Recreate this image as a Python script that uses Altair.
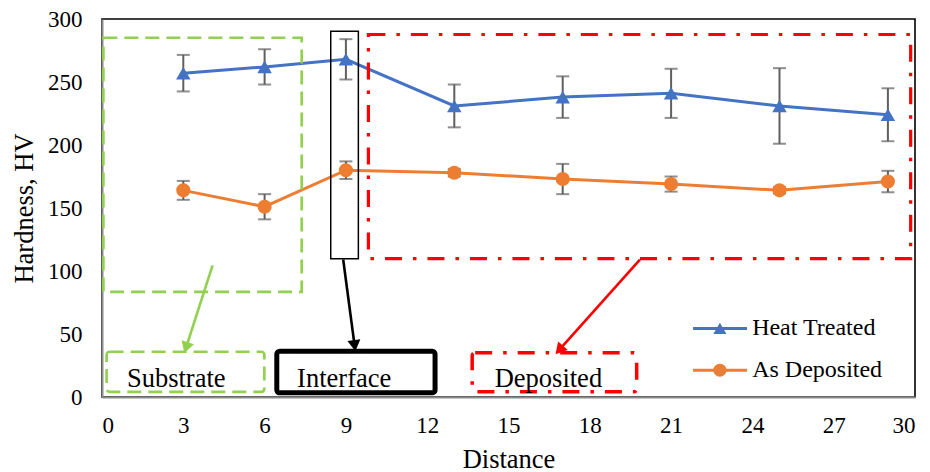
import math
import altair as alt
import pandas as pd

# ---------------- data ----------------
distance = [3, 6, 9, 13, 17, 21, 25, 29]
heat_treated = [257, 262, 268, 231, 238, 241, 231, 224]
heat_err = [14.5, 14, 16, 17, 16.5, 19.5, 30, 21]
as_deposited = [164, 151, 180, 178, 173, 169, 164, 171]
deposited_err = [7.5, 10, 7, 3, 12, 6, 2.5, 8.5]

x_ticks = list(range(0, 31, 3))
y_ticks = list(range(0, 301, 50))

legend_labels = ["Heat Treated", "As Deposited"]
region_labels = ["Substrate", "Interface", "Deposited"]

# ---------------- annotation geometry (data units) ----------------
region_box_x = [0.05, 8.44, 9.83]
region_box_x2 = [7.37, 9.46, 29.84]
region_box_y = [83.5, 109.7, 109.9]
region_box_y2 = [285.1, 290.3, 287.7]
label_box_x = [0.17, 6.45, 13.66]
label_box_x2 = [5.99, 12.29, 19.73]
label_box_y = [4.1, 3.3, 4.1]
label_box_y2 = [35.9, 36.3, 35.1]
label_text_x = [0.92, 7.2, 14.49]
label_text_y = [7.8, 7.8, 7.8]
arrow_x = [4.08, 8.90, 19.85]
arrow_y = [104.4, 109.1, 109.1]
arrow_x2 = [3.06, 9.34, 16.78]
arrow_y2 = [36.3, 37.7, 35.1]
legend_line_x = [21.81, 21.81]
legend_line_x2 = [23.80, 23.80]
legend_mark_x = [22.80, 22.80]
legend_text_x = [23.99, 23.99]
legend_row_y = [54.4, 21.3]

# ---------------- styles ----------------
W, H = 813, 378
XMAX, YMAX = 30, 300
PX_X = W / XMAX
PX_Y = H / YMAX
FONT = "Liberation Serif"
BLUE = "#4472C4"
ORANGE = "#ED7D31"
GREEN = "#92D050"
RED = "#FF0000"
ERR = "#5F5F5F"
region_colors = [GREEN, "#000000", RED]
region_dash = [[14, 7], [1, 0], [17, 11, 3.5, 11]]
region_width = [2.7, 1.5, 3.2]
label_dash = [[14, 7], [1, 0], [17, 11, 3.5, 11]]
label_width = [2.7, 5, 3.5]
HEAD_W = 13

xs = alt.Scale(domain=[0, XMAX], nice=False, zero=False)
ys = alt.Scale(domain=[0, YMAX], nice=False, zero=False)

common_axis = dict(ticks=False, grid=False, labelFont=FONT, titleFont=FONT,
                   labelFontSize=23, titleFontSize=26.5, labelColor="black",
                   titleColor="black", titleFontWeight="normal",
                   domainColor="#8C8C8C", domainWidth=2)
x_axis = alt.Axis(values=x_ticks, title="Distance", labelPadding=17,
                  titleX=W / 2, titleY=70, titleBaseline="alphabetic",
                  titleAlign="center", **common_axis)
y_axis = alt.Axis(values=y_ticks, title="Hardness, HV", labelPadding=20,
                  titleX=-70, titleY=H / 2, titleAngle=270,
                  titleBaseline="alphabetic", titleAlign="center", **common_axis)


def X(f):
    return alt.X(f, type="quantitative", scale=xs, axis=x_axis)


def Y(f):
    return alt.Y(f, type="quantitative", scale=ys, axis=y_axis)


ht = pd.DataFrame({"d": distance, "v": heat_treated,
                   "lo": [v - e for v, e in zip(heat_treated, heat_err)],
                   "hi": [v + e for v, e in zip(heat_treated, heat_err)]})
ad = pd.DataFrame({"d": distance, "v": as_deposited,
                   "lo": [v - e for v, e in zip(as_deposited, deposited_err)],
                   "hi": [v + e for v, e in zip(as_deposited, deposited_err)]})

layers = []

# series lines
layers.append(alt.Chart(ht).mark_line(color=BLUE, strokeWidth=3).encode(
    x=X("d"), y=Y("v")))
layers.append(alt.Chart(ad).mark_line(color=ORANGE, strokeWidth=3).encode(
    x=X("d"), y=Y("v")))

# error bars
for df in (ht, ad):
    layers.append(alt.Chart(df).mark_rule(color=ERR, strokeWidth=2).encode(
        x=X("d"), y=Y("lo"), y2="hi"))
    for f in ("lo", "hi"):
        layers.append(alt.Chart(df).mark_tick(color=ERR, thickness=2, size=13,
                                              orient="horizontal").encode(
            x=X("d"), y=Y(f)))

# markers
layers.append(alt.Chart(ht).mark_point(shape="triangle-up", filled=True, size=210,
                                       color=BLUE, opacity=1).encode(
    x=X("d"), y=Y("v")))
layers.append(alt.Chart(ad).mark_point(shape="circle", filled=True, size=200,
                                       color=ORANGE, opacity=1).encode(
    x=X("d"), y=Y("v")))

# region boxes
for i in range(3):
    dfb = pd.DataFrame({"x": [region_box_x[i]], "x2": [region_box_x2[i]],
                        "y": [region_box_y[i]], "y2": [region_box_y2[i]]})
    layers.append(alt.Chart(dfb).mark_rect(
        fillOpacity=0, fill="white", stroke=region_colors[i],
        strokeWidth=region_width[i], strokeDash=region_dash[i]).encode(
        x=X("x"), x2="x2", y=Y("y"), y2="y2"))
    dfl = pd.DataFrame({"x": [label_box_x[i]], "x2": [label_box_x2[i]],
                        "y": [label_box_y[i]], "y2": [label_box_y2[i]]})
    layers.append(alt.Chart(dfl).mark_rect(
        fillOpacity=0, fill="white", stroke=region_colors[i], cornerRadius=3,
        strokeWidth=label_width[i], strokeDash=label_dash[i]).encode(
        x=X("x"), x2="x2", y=Y("y"), y2="y2"))

# region labels
dft = pd.DataFrame({"x": label_text_x, "y": label_text_y, "t": region_labels})
layers.append(alt.Chart(dft).mark_text(font=FONT, fontSize=26.5, align="left",
                                       baseline="alphabetic", color="black").encode(
    x=X("x"), y=Y("y"), text="t:N"))

# arrows
for i in range(3):
    dx = (arrow_x2[i] - arrow_x[i]) * PX_X
    dy = -(arrow_y2[i] - arrow_y[i]) * PX_Y
    L = math.hypot(dx, dy)
    ux, uy = dx / L, dy / L
    ang = math.degrees(math.atan2(dx, -dy)) % 360
    back = HEAD_W * math.sqrt(3) / 4
    cx = arrow_x2[i] - ux * back / PX_X
    cy = arrow_y2[i] + uy * back / PX_Y
    ex = arrow_x2[i] - ux * back * 1.5 / PX_X
    ey = arrow_y2[i] + uy * back * 1.5 / PX_Y
    dfa = pd.DataFrame({"x": [arrow_x[i]], "y": [arrow_y[i]], "x2": [ex], "y2": [ey]})
    layers.append(alt.Chart(dfa).mark_rule(color=region_colors[i], strokeWidth=2.6).encode(
        x=X("x"), y=Y("y"), x2="x2", y2="y2"))
    dfh = pd.DataFrame({"x": [cx], "y": [cy]})
    layers.append(alt.Chart(dfh).mark_point(shape="triangle", filled=True, opacity=1,
                                            size=HEAD_W ** 2, angle=ang,
                                            color=region_colors[i]).encode(
        x=X("x"), y=Y("y")))

# custom legend
dlg = pd.DataFrame({"x": legend_line_x, "x2": legend_line_x2, "m": legend_mark_x,
                    "tx": legend_text_x, "y": legend_row_y, "t": legend_labels})
for i, (col, shp, sz) in enumerate([(BLUE, "triangle-up", 170), (ORANGE, "circle", 170)]):
    row = dlg.iloc[[i]]
    layers.append(alt.Chart(row).mark_rule(color=col, strokeWidth=3).encode(
        x=X("x"), x2="x2", y=Y("y")))
    layers.append(alt.Chart(row).mark_point(shape=shp, filled=True, opacity=1,
                                            size=sz, color=col).encode(
        x=X("m"), y=Y("y")))
layers.append(alt.Chart(dlg).mark_text(font=FONT, fontSize=24, align="left",
                                       baseline="middle", color="black").encode(
    x=X("tx"), y=Y("y"), text="t:N"))

chart = alt.layer(*layers).properties(
    width=W, height=H,
    autosize=alt.AutoSizeParams(type="none"),
    padding={"left": 94, "top": 11, "right": 7, "bottom": 75},
).configure_view(
    stroke="black", strokeWidth=1.6
)

chart.save("out.html", embed_options={"renderer": "svg", "actions": False})
